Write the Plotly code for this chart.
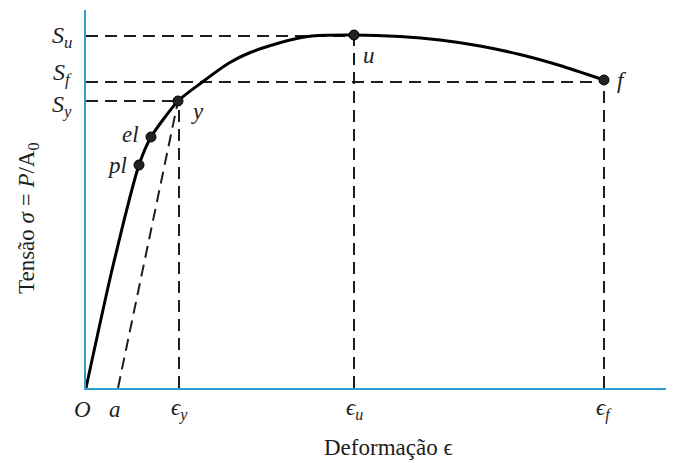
import plotly.graph_objects as go

# ---- data (arbitrary units) ----
curve_strain = [0, 26, 53, 65, 92, 115, 143, 163, 193, 213, 226, 268, 314, 354, 394, 434, 474, 518]
curve_stress = [0, 118, 223, 251, 287, 305, 325, 335, 345, 350, 352, 353, 351.5, 348, 342, 333.5, 322.5, 308]

point_names = ["pl", "el", "y", "u", "f"]
point_strain = [53, 65, 92, 268, 518]
point_stress = [223, 251, 287, 353, 308]

strain_a = 32
strain_y = 93
strain_u = 268
strain_f = 518
S_u = 352
S_f = 306
S_y = 287

x_tick_vals = [0, strain_a, strain_y, strain_u, strain_f]
x_tick_text = ["O", "a", "ϵ<sub>y</sub>", "ϵ<sub>u</sub>", "ϵ<sub>f</sub>"]
y_tick_vals = [S_u, S_f, S_y]
y_tick_text = ["S<sub>u</sub>", "S<sub>f</sub>", "S<sub>y</sub>"]
x_title = "Deformação ϵ"
y_title = "Tensão <i>σ</i> = <i>P</i>/A<sub>0</sub>"

X_MAX = 596
Y_MAX = 378
FONT = "Liberation Serif"
BLUE = "#2f9fd0"
INK = "#1e1e1e"

fig = go.Figure()

dash = dict(color=INK, width=2, dash="12px,7px")

# horizontal dashed guides
for yv, xe in [(S_u, strain_u), (S_f, strain_f), (S_y, strain_y)]:
    fig.add_trace(go.Scatter(x=[0, xe], y=[yv, yv], mode="lines", line=dash,
                             hoverinfo="skip", showlegend=False))
# vertical dashed guides
for xv, ye in [(strain_y, S_y), (strain_u, S_u), (strain_f, S_f)]:
    fig.add_trace(go.Scatter(x=[xv, xv], y=[0, ye], mode="lines", line=dash,
                             hoverinfo="skip", showlegend=False))
# unloading line from a (parallel to elastic line) to y
fig.add_trace(go.Scatter(x=[strain_a, point_strain[2]], y=[0, point_stress[2]], mode="lines",
                         line=dash, hoverinfo="skip", showlegend=False))

# stress-strain curve
fig.add_trace(go.Scatter(x=curve_strain, y=curve_stress, mode="lines",
                         line=dict(color="black", width=3, shape="spline", smoothing=0.6),
                         showlegend=False))
# marked points
fig.add_trace(go.Scatter(x=point_strain, y=point_stress, mode="markers",
                         marker=dict(color="#222", size=10, line=dict(color="black", width=1)),
                         showlegend=False))

ann = []
# point labels
offsets = {"pl": (-22, 0), "el": (-21, 3), "y": (19, -10), "u": (15, -20), "f": (18, 0)}
for n, xv, yv in zip(point_names, point_strain, point_stress):
    dx, dy = offsets[n]
    ann.append(dict(x=xv, y=yv, xref="x", yref="y", text="<i>" + n + "</i>",
                    showarrow=False, xshift=dx, yshift=dy,
                    font=dict(family=FONT, size=23, color=INK)))
# x labels
x_shift = [-4, -3, 0, 0, 0]
for xv, t, sh in zip(x_tick_vals, x_tick_text, x_shift):
    ann.append(dict(x=xv, y=0, xref="x", yref="y", text="<i>" + t + "</i>",
                    showarrow=False, xshift=sh, yshift=-21,
                    font=dict(family=FONT, size=23, color=INK)))
# y labels
y_shift = [-1, 8, -5]
for yv, t, sh in zip(y_tick_vals, y_tick_text, y_shift):
    ann.append(dict(x=0, y=yv, xref="x", yref="y", text="<i>" + t + "</i>",
                    showarrow=False, xanchor="right", xshift=-12, yshift=sh,
                    font=dict(family=FONT, size=24, color=INK)))
# axis titles
ann.append(dict(x=302, y=0, xref="x", yref="y", text=x_title, showarrow=False,
                yshift=-59, font=dict(family=FONT, size=23, color=INK)))
ann.append(dict(x=0, y=170, xref="x", yref="y", text=y_title, showarrow=False,
                textangle=-90, xshift=-58, font=dict(family=FONT, size=23, color=INK)))

fig.update_layout(
    width=674, height=455,
    margin=dict(l=78, r=0, t=2, b=75),
    paper_bgcolor="white", plot_bgcolor="white",
    annotations=ann,
    xaxis=dict(range=[0, X_MAX], showgrid=False, zeroline=False, showticklabels=False,
               ticks="", showline=True, linecolor=BLUE, linewidth=2),
    yaxis=dict(range=[0, Y_MAX], showgrid=False, zeroline=False, showticklabels=False,
               ticks="", showline=True, linecolor=BLUE, linewidth=2),
)

fig.write_html("out.html")
